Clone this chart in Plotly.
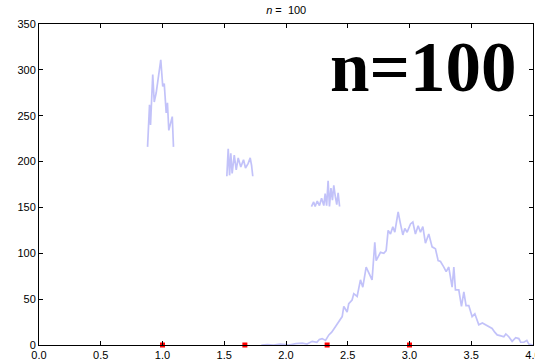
import plotly.graph_objects as go

# Sampled histogram-style traces (x position, count)
c1_x = [0.879, 0.895, 0.903, 0.921, 0.933, 0.949, 0.986, 1.002, 1.014, 1.030, 1.040, 1.051, 1.079, 1.089]
c1_y = [216, 262, 240, 295, 265, 275, 311, 282, 285, 253, 264, 234, 249, 216]

c2_x = [1.521, 1.532, 1.543, 1.553, 1.564, 1.581, 1.597, 1.613, 1.634, 1.656, 1.672, 1.694, 1.710, 1.721, 1.731]
c2_y = [184, 214, 185, 209, 187, 207, 191, 204, 194, 202, 193, 198, 204, 196, 184]

c3_x = [2.206, 2.224, 2.236, 2.253, 2.271, 2.288, 2.306, 2.317, 2.329, 2.341, 2.352,
        2.364, 2.376, 2.387, 2.399, 2.411, 2.422, 2.434]
c3_y = [151, 156, 151, 157, 152, 160, 152, 165, 152, 179, 151, 171, 158, 174, 162, 153, 166, 151]

c4_x = [1.80, 1.85, 1.90, 1.95, 2.00, 2.023, 2.08, 2.131, 2.17, 2.212, 2.25, 2.27, 2.293, 2.32,
        2.347, 2.37, 2.400, 2.428, 2.455,
        2.468, 2.495, 2.508, 2.535, 2.549, 2.576, 2.603, 2.622, 2.649, 2.670, 2.697, 2.719,
        2.730, 2.765, 2.792, 2.811, 2.827, 2.846, 2.865, 2.881, 2.908, 2.927, 2.946, 2.962,
        2.981, 3.008, 3.027, 3.048, 3.070, 3.089, 3.108, 3.129, 3.156, 3.183, 3.210, 3.232,
        3.251, 3.278, 3.297, 3.318, 3.345, 3.359, 3.372, 3.399, 3.421, 3.440, 3.458, 3.480,
        3.507, 3.529, 3.561, 3.59, 3.615, 3.64, 3.669, 3.69, 3.710, 3.74, 3.764, 3.78, 3.804,
        3.831, 3.86, 3.885, 3.90, 3.926, 3.95, 3.966, 3.999]
c4_y = [0, 0.5, 0, 1, 0.5, 0, 1.5, 2, 1, 4, 3, 6, 7, 5,
        11, 14, 20, 25, 31,
        42, 36, 45, 49, 56, 53, 71, 63, 85, 78, 71, 112,
        92, 101, 100, 103, 125, 121, 129, 123, 145, 132, 120, 127,
        123, 132, 134, 121, 130, 123, 129, 111, 121, 107, 105, 92,
        91, 85, 80, 85, 63, 85, 60, 60, 42, 58, 43, 43,
        31, 34, 22, 24, 22, 20, 18, 14, 11, 10, 9, 12, 9,
        4, 8, 7, 3, 3, 5, 1, 0]

# Reference points on the baseline
pts_x = [1.0, 1.667, 2.333, 3.0]
pts_y = [0, 0, 0, 0]

x_ticks = [0.0, 0.5, 1.0, 1.5, 2.0, 2.5, 3.0, 3.5, 4.0]
y_ticks = [0, 50, 100, 150, 200, 250, 300, 350]

line_style = dict(color="rgba(110,110,240,0.42)", width=1.7)

fig = go.Figure()
for xs, ys in [(c1_x, c1_y), (c2_x, c2_y), (c3_x, c3_y), (c4_x, c4_y)]:
    fig.add_trace(go.Scatter(x=xs, y=ys, mode="lines", line=line_style,
                             showlegend=False, hoverinfo="skip"))

fig.add_trace(go.Scatter(x=pts_x, y=pts_y, mode="markers",
                         marker=dict(color="red", size=5, symbol="square"),
                         cliponaxis=False, showlegend=False))

axis_common = dict(showgrid=False, zeroline=False, showline=True, linecolor="black",
                   linewidth=1, mirror="ticks", ticks="inside", ticklen=4, automargin=False,
                   tickcolor="black", tickfont=dict(family="Liberation Sans", size=11, color="black"))

fig.update_xaxes(range=[0, 4], tickvals=x_ticks, ticktext=[f"{v:.1f}" for v in x_ticks],
                 ticklabeloverflow="allow", **axis_common)
fig.update_yaxes(range=[0, 350], tickvals=y_ticks, **axis_common)

fig.add_annotation(text="<b>n=100</b>", xref="paper", yref="paper", x=0.586, y=0.866,
                   xanchor="left", yanchor="middle", showarrow=False,
                   font=dict(family="Liberation Serif", size=71, color="black"))

fig.update_layout(
    width=535, height=360,
    margin=dict(l=39, r=2, t=24, b=15),
    paper_bgcolor="white", plot_bgcolor="white",
    title=dict(text="<i>n</i> =  100", x=0.535, xanchor="center", y=0.972, yanchor="middle",
               yref="container", font=dict(family="Liberation Sans", size=11, color="black")),
)

fig.write_html("out.html")
